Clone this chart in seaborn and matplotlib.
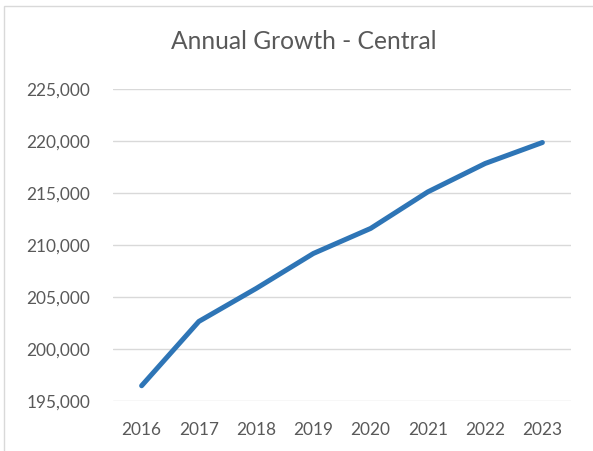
import matplotlib
matplotlib.use("Agg")
import matplotlib.pyplot as plt
import seaborn as sns
import pandas as pd
from matplotlib.ticker import FuncFormatter, MultipleLocator
from matplotlib.patches import Rectangle

years = ["2016", "2017", "2018", "2019", "2020", "2021", "2022", "2023"]
values = [196440, 202630, 205800, 209170, 211580, 215100, 217830, 219850]
title = "Annual Growth - Central"

df = pd.DataFrame({"year": years, "value": values})

sns.set_theme(style="white")
plt.rcParams["font.family"] = ["Lato", "DejaVu Sans"]

fig = plt.figure(figsize=(5.93, 4.51), dpi=100)
ax = fig.add_axes([113 / 593, 1 - 400.7 / 451, 458 / 593, (400.7 - 89) / 451])

sns.lineplot(data=df, x="year", y="value", ax=ax, color="#2E75B6",
             linewidth=3.6, solid_capstyle="round", solid_joinstyle="round", sort=False)

ax.set_xlim(-0.5, len(years) - 0.5)
ax.set_ylim(195000, 225000)
ax.yaxis.set_major_locator(MultipleLocator(5000))
ax.yaxis.set_major_formatter(FuncFormatter(lambda v, p: f"{int(v):,}"))
ax.grid(axis="y", color="#D9D9D9", linewidth=1.0)
ax.set_axisbelow(True)
for s in ax.spines.values():
    s.set_visible(False)
ax.tick_params(axis="both", length=0, labelsize=12.4, labelcolor="#595959")
ax.tick_params(axis="y", pad=16.5)
ax.tick_params(axis="x", pad=15.5)
ax.set_xlabel("")
ax.set_ylabel("")

fig.text(304 / 593, 1 - 49.4 / 451, title, ha="center", va="baseline",
         fontsize=17.7, color="#595959")

fig.patches.append(Rectangle((3.5 / 593, -0.1), 1.2, 1 - 5.5 / 451 + 0.1,
                             transform=fig.transFigure, fill=False,
                             edgecolor="#D9D9D9", linewidth=1.0))

fig.savefig("out.png", dpi=100, facecolor="white")
